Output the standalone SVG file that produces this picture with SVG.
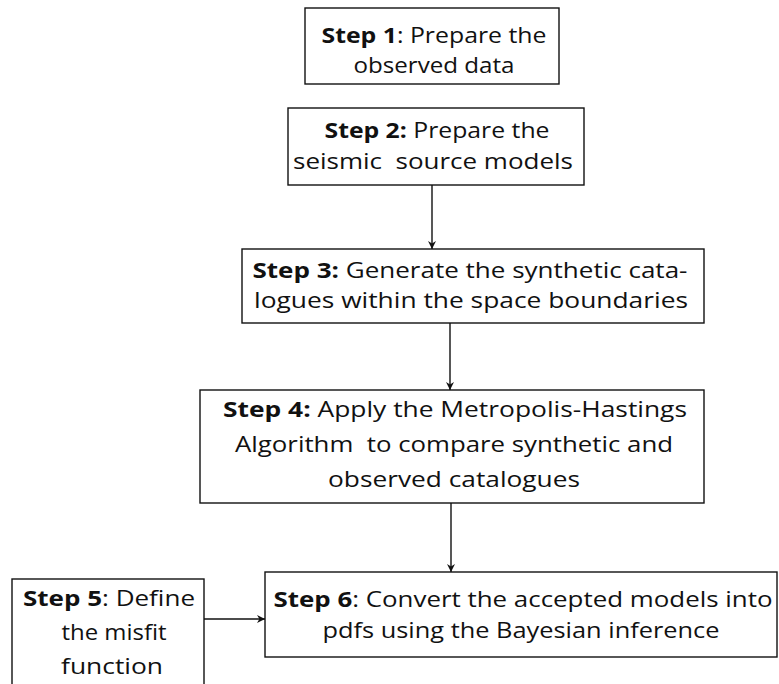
<svg xmlns="http://www.w3.org/2000/svg" width="779" height="684" viewBox="0 0 779 684">
<style>
.box{fill:#fff;stroke:#111;stroke-width:1.4}
.t{font-family:"Open Sans","Noto Sans",sans-serif;font-size:22px;fill:#111;text-anchor:middle;white-space:pre}
.b{font-weight:bold}
.c{stroke:#111;stroke-width:1.4;fill:none}
</style>
<defs>
<marker id="ah" viewBox="0 0 10 10" refX="10" refY="5" markerWidth="8" markerHeight="10" markerUnits="userSpaceOnUse" orient="auto">
<path d="M0,0 L10,5 L0,10 L3,5 Z" fill="#111"/>
</marker>
</defs>
<rect width="779" height="684" fill="#fff"/>
<g id="connectors">
<line class="c" x1="432" y1="185" x2="432" y2="249" marker-end="url(#ah)"/>
<line class="c" x1="450" y1="323" x2="450" y2="390" marker-end="url(#ah)"/>
<line class="c" x1="451" y1="503" x2="451" y2="572" marker-end="url(#ah)"/>
<line class="c" x1="204" y1="619" x2="265" y2="619" marker-end="url(#ah)"/>
</g>
<g id="step1">
<rect class="box" x="305" y="8" width="254" height="76"/>
<text class="t" x="434" y="43" textLength="225" lengthAdjust="spacingAndGlyphs"><tspan class="b">Step 1</tspan>: Prepare the</text>
<text class="t" x="434" y="73" textLength="161" lengthAdjust="spacingAndGlyphs">observed data</text>
</g>
<g id="step2">
<rect class="box" x="288" y="108" width="296" height="77"/>
<text class="t" x="437" y="138" textLength="225" lengthAdjust="spacingAndGlyphs"><tspan class="b">Step 2:</tspan> Prepare the</text>
<text class="t" x="433" y="169" textLength="280" lengthAdjust="spacingAndGlyphs">seismic  source models</text>
</g>
<g id="step3">
<rect class="box" x="242" y="249" width="462" height="74"/>
<text class="t" x="470" y="278" textLength="435" lengthAdjust="spacingAndGlyphs"><tspan class="b">Step 3:</tspan> Generate the synthetic cata-</text>
<text class="t" x="471" y="308" textLength="434" lengthAdjust="spacingAndGlyphs">logues within the space boundaries</text>
</g>
<g id="step4">
<rect class="box" x="200" y="390" width="504" height="113"/>
<text class="t" x="455" y="417" textLength="464" lengthAdjust="spacingAndGlyphs"><tspan class="b">Step 4:</tspan> Apply the Metropolis-Hastings</text>
<text class="t" x="454" y="452" textLength="438" lengthAdjust="spacingAndGlyphs">Algorithm  to compare synthetic and</text>
<text class="t" x="454" y="487" textLength="252" lengthAdjust="spacingAndGlyphs">observed catalogues</text>
</g>
<g id="step5">
<rect class="box" x="12" y="579" width="192" height="120"/>
<text class="t" x="109" y="606" textLength="172" lengthAdjust="spacingAndGlyphs"><tspan class="b">Step 5</tspan>: Define</text>
<text class="t" x="114" y="640" textLength="105" lengthAdjust="spacingAndGlyphs">the misfit</text>
<text class="t" x="112" y="674" textLength="102" lengthAdjust="spacingAndGlyphs">function</text>
</g>
<g id="step6">
<rect class="box" x="265" y="572" width="512" height="85"/>
<text class="t" x="523" y="607" textLength="499" lengthAdjust="spacingAndGlyphs"><tspan class="b">Step 6</tspan>: Convert the accepted models into</text>
<text class="t" x="521" y="638" textLength="397" lengthAdjust="spacingAndGlyphs">pdfs using the Bayesian inference</text>
</g>
</svg>
